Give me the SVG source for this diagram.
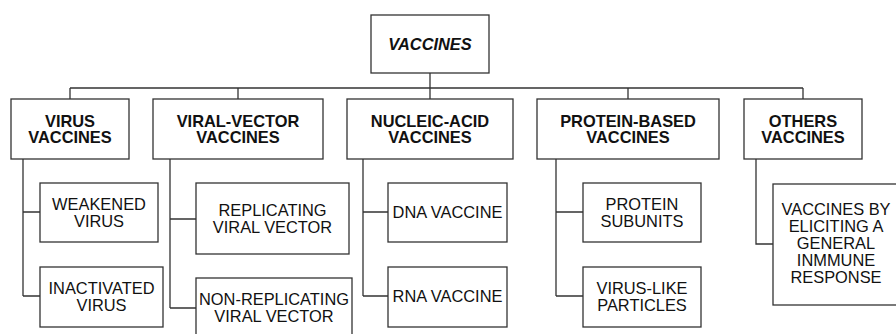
<svg xmlns="http://www.w3.org/2000/svg" width="896" height="334" viewBox="0 0 896 334">
<style>
rect{fill:#fff;stroke:#333;stroke-width:1.3}
#connectors path{fill:none;stroke:#333;stroke-width:1.3}
text{font-family:"Liberation Sans",Arial,sans-serif;font-size:16.4px;fill:#111;text-anchor:middle}
.b{font-weight:bold}
.t{font-weight:bold;font-style:italic}
</style>
<rect width="896" height="334" style="fill:#fff;stroke:none"/>
<g id="connectors">
<path d="M430 73V88M70 88H803M70 88V99M238 88V99M430 88V99M628 88V99M803 88V99"/>
<path d="M23 159V296M23 212H40M23 296H40"/>
<path d="M170 159V308M170 219H196M170 308H196"/>
<path d="M363 159V296M363 212H388M363 296H388"/>
<path d="M556 159V296M556 212H583M556 296H583"/>
<path d="M756 159V244H773"/>
</g>
<g id="vaccines"><rect x="371" y="15" width="118" height="58"/><text class="t" x="430" y="50">VACCINES</text></g>
<g id="virus-vaccines"><rect x="11" y="99" width="118" height="60"/><text class="b" x="70" y="126.5">VIRUS</text><text class="b" x="70" y="143.2">VACCINES</text></g>
<g id="viral-vector-vaccines"><rect x="153" y="99" width="170" height="60"/><text class="b" x="238" y="126.5">VIRAL-VECTOR</text><text class="b" x="238" y="143.2">VACCINES</text></g>
<g id="nucleic-acid-vaccines"><rect x="347" y="99" width="166" height="60"/><text class="b" x="430" y="126.5">NUCLEIC-ACID</text><text class="b" x="430" y="143.2">VACCINES</text></g>
<g id="protein-based-vaccines"><rect x="537" y="99" width="182" height="60"/><text class="b" x="628" y="126.5">PROTEIN-BASED</text><text class="b" x="628" y="143.2">VACCINES</text></g>
<g id="others-vaccines"><rect x="744" y="99" width="118" height="60"/><text class="b" x="803" y="126.5">OTHERS</text><text class="b" x="803" y="143.2">VACCINES</text></g>
<g id="weakened-virus"><rect x="40" y="183" width="118" height="59"/><text x="99" y="210">WEAKENED</text><text x="99" y="227">VIRUS</text></g>
<g id="inactivated-virus"><rect x="40" y="267" width="123" height="60"/><text x="101.5" y="294">INACTIVATED</text><text x="101.5" y="311">VIRUS</text></g>
<g id="replicating-viral-vector"><rect x="196" y="183" width="153" height="71"/><text x="272.5" y="216">REPLICATING</text><text x="272.5" y="233">VIRAL VECTOR</text></g>
<g id="non-replicating-viral-vector"><rect x="196" y="278" width="156" height="62"/><text x="274" y="305">NON-REPLICATING</text><text x="274" y="322">VIRAL VECTOR</text></g>
<g id="dna-vaccine"><rect x="388" y="183" width="119" height="59"/><text x="447.5" y="218">DNA VACCINE</text></g>
<g id="rna-vaccine"><rect x="388" y="267" width="119" height="60"/><text x="447.5" y="302">RNA VACCINE</text></g>
<g id="protein-subunits"><rect x="583" y="183" width="118" height="59"/><text x="642" y="210">PROTEIN</text><text x="642" y="227">SUBUNITS</text></g>
<g id="virus-like-particles"><rect x="583" y="267" width="118" height="60"/><text x="642" y="294">VIRUS-LIKE</text><text x="642" y="311">PARTICLES</text></g>
<g id="general-immune-response"><rect x="773" y="184" width="127" height="121"/><text x="836" y="215">VACCINES BY</text><text x="836" y="232">ELICITING A</text><text x="836" y="249">GENERAL</text><text x="836" y="266">INMMUNE</text><text x="836" y="283">RESPONSE</text></g>
</svg>
